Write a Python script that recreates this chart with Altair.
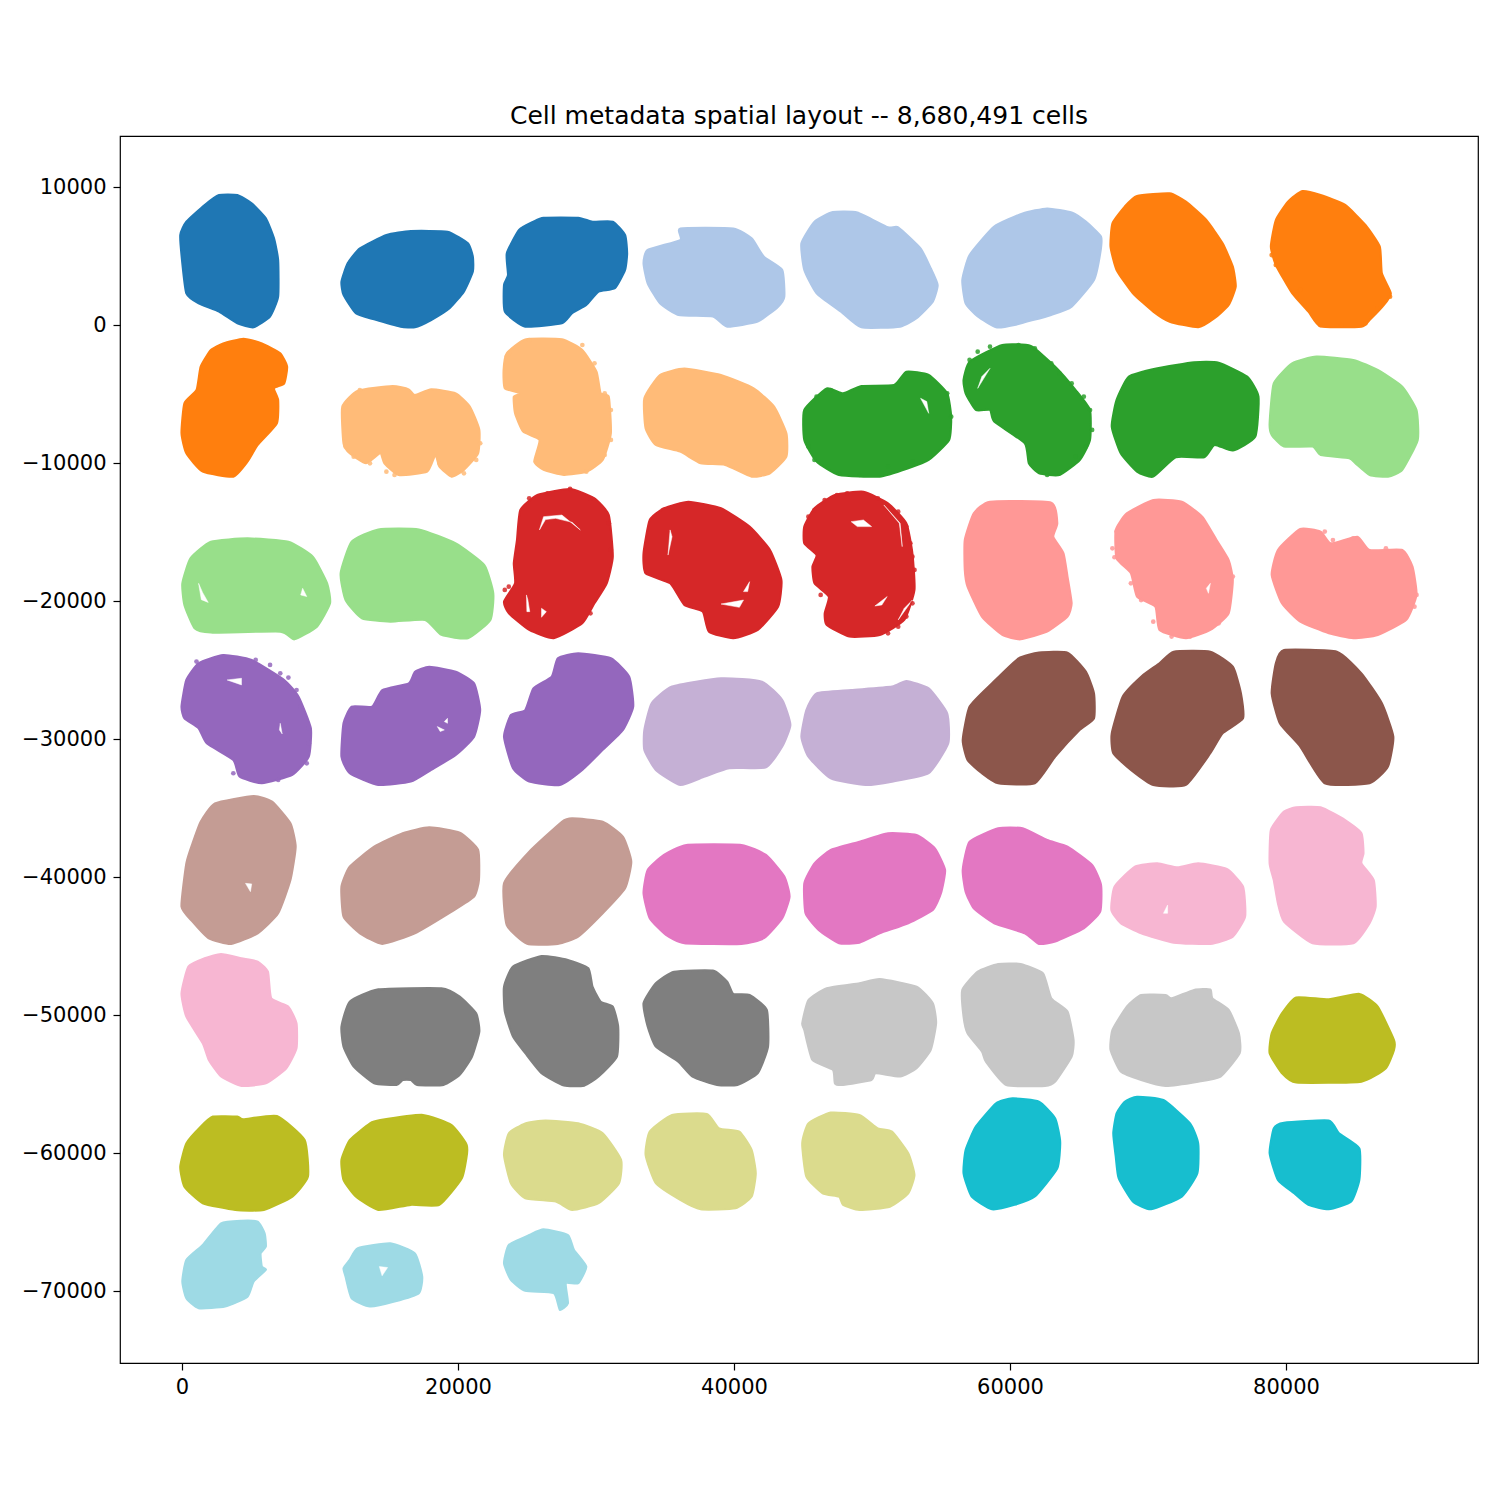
import altair as alt
import pandas as pd

COLORS = ["#1f77b4","#aec7e8","#ff7f0e","#ffbb78","#2ca02c","#98df8a","#d62728","#ff9896","#9467bd","#c5b0d5",
          "#8c564b","#c49c94","#e377c2","#f7b6d2","#7f7f7f","#c7c7c7","#bcbd22","#dbdb8d","#17becf","#9edae5"]
TITLE = "Cell metadata spatial layout -- 8,680,491 cells"
X_TICKS = [0, 20000, 40000, 60000, 80000]
Y_TICKS = [10000, 0, -10000, -20000, -30000, -40000, -50000, -60000, -70000]

b01=[(2680,9420),(4010,9420),(5050,8820),(6080,7730),(6670,6280),(6970,4710),(6970,2050),(6380,610),(5190,-170),(4010,120),(2680,970),(1200,1570),(310,2300),(20,4470),(-130,6520),(310,7490),(1640,8700)]
b02=[(16580,6810),(19240,6760),(20720,5920),(21080,4950),(21080,3870),(20430,2420),(19390,1210),(18060,360),(16880,-170),(15840,-120),(13920,410),(12590,850),(11700,2180),(11550,3140),(12000,4470),(12890,5560),(14810,6520)]
b03=[(26200,7780),(28710,7780),(29750,7490),(31220,7490),(32110,6520),(32260,5190),(32110,3990),(31370,2660),(30190,2420),(29300,1450),(28270,850),(27530,120),(24870,-120),(23390,970),(23330,2900),(23620,3620),(23530,5190),(24420,6890),(25460,7490)]
b04=[(36110,7000),(39950,7000),(41280,6280),(42170,4950),(43500,3990),(43650,2050),(43200,1330),(41720,240),(39510,-120),(38470,610),(35960,730),(34630,1570),(33740,3020),(33440,4470),(33740,5440),(36110,6160)]
b05=[(47160,8190),(48940,8160),(51160,7080),(51900,7080),(53520,5560),(54260,4110),(54760,2900),(54410,1690),(53230,490),(52040,-120),(49230,-170),(47750,970),(45980,2300),(45090,3990),(44880,5920),(45830,7490)]
b06=[(62690,8450),(64470,8160),(65500,7490),(66600,6400),(66540,5190),(66090,3260),(64470,1330),(62990,730),(60330,0),(58990,-170),(57660,610),(56780,1570),(56540,3260),(57070,5070),(58850,7130),(60920,8090)]
b07=[(69200,9350),(71570,9540),(72750,8940),(74230,7610),(75410,5920),(76150,4230),(76360,2780),(75850,1450),(74820,490),(73640,-170),(71570,240),(70380,970),(68900,2300),(67720,3990),(67280,5680),(67420,7370),(68310,8580)]
b08=[(81180,9710),(82510,9420),(84290,8700),(85760,7250),(86800,5680),(86950,3750),(87600,2300),(87100,1450),(86060,360),(85470,-120),(82510,-120),(81620,970),(80440,2300),(79260,4350),(78900,5680),(79260,7610),(80140,8940)]
b09=[(4450,-990),(5790,-1330),(7120,-2050),(7620,-3020),(7410,-4230),(6670,-4590),(6970,-5430),(6880,-7120),(5490,-8690),(4750,-9900),(3720,-10990),(1500,-10630),(310,-9300),(-40,-7850),(170,-5670),(1050,-4710),(1350,-3020),(2090,-1810),(2980,-1330)]
b10=[(15250,-4420),(16430,-4660),(16880,-5070),(18060,-4660),(19840,-4950),(20870,-5920),(21550,-7600),(21460,-9300),(20430,-10500),(19540,-10990),(18650,-10260),(18360,-9420),(17770,-10630),(15700,-10870),(14660,-10020),(14360,-9300),(13330,-10020),(12150,-9300),(11700,-8570),(11610,-5920),(12740,-4760)]
b11=[(24870,-1040),(27530,-1040),(29010,-1810),(30040,-3380),(30340,-4950),(30930,-5190),(31080,-7850),(30490,-9780),(29300,-10630),(27680,-10870),(26200,-10500),(25520,-9900),(25900,-8330),(24720,-7730),(24130,-6400),(24040,-5190),(24570,-4950),(23390,-4590),(23300,-3260),(23530,-2050)]
b12=[(36400,-3160),(39060,-3620),(41430,-4590),(42910,-5920),(43800,-7850),(43800,-9540),(42610,-10750),(41280,-10990),(39360,-10140),(37580,-10020),(36100,-9180),(34330,-8690),(33590,-7490),(33500,-5310),(34630,-3620)]
b13=[(52490,-3380),(54110,-3620),(55450,-4950),(55740,-6640),(55590,-8330),(54110,-9780),(52630,-10380),(50560,-10990),(47610,-10870),(45980,-9900),(45090,-8330),(45090,-6160),(46720,-4590),(47900,-4950),(49230,-4420),(51600,-4350)]
b14=[(59440,-1450),(61510,-1520),(63280,-3020),(64760,-4710),(65800,-6160),(65800,-8330),(65060,-9780),(63580,-10870),(62100,-10750),(61360,-10020),(61070,-8570),(58850,-7000),(58550,-6160),(57520,-6160),(56780,-4950),(56630,-3980),(57070,-2660)]
b15=[(73340,-2700),(75120,-2730),(77190,-3740),(78010,-5190),(77780,-8090),(76150,-9100),(74820,-8690),(74080,-9590),(72010,-9590),(70380,-10990),(69200,-10630),(68020,-9300),(67370,-7360),(67720,-5430),(68610,-3740),(70680,-3140)]
b16=[(82210,-2290),(84880,-2530),(86650,-3260),(88430,-4470),(89460,-6160),(89550,-8330),(88430,-10500),(87390,-10990),(86060,-10870),(85020,-10020),(84580,-9660),(82510,-9420),(81920,-8810),(79850,-8810),(78960,-7970),(78810,-7120),(79110,-4230),(80440,-2780)]
b17=[(4750,-15460),(7710,-15700),(9480,-16790),(10520,-18720),(10730,-20170),(9780,-21860),(8150,-22780),(7120,-22220),(2090,-22290),(910,-21980),(170,-20290),(20,-18720),(610,-16910),(2090,-15700)]
b18=[(14220,-14810),(17170,-14810),(19840,-15820),(21910,-17390),(22560,-19440),(22350,-21370),(20720,-22700),(18800,-22460),(17620,-21370),(15100,-21500),(13030,-21250),(11850,-19930),(11490,-17990),(12290,-15700)]
b19=[(28120,-11880),(29890,-12560),(30930,-13770),(31220,-16790),(30780,-18720),(29890,-20170),(29010,-21620),(26940,-22700),(25160,-22100),(23680,-20890),(23330,-20050),(24130,-18720),(24040,-17270),(24270,-15580),(24510,-13410),(25750,-12320)]
b20=[(36700,-12800),(39060,-13280),(41130,-14610),(42610,-16300),(43440,-18480),(43200,-20410),(41730,-22100),(39950,-22700),(38180,-22220),(37730,-20770),(36400,-20290),(35370,-18720),(33590,-17990),(33440,-16540),(33890,-14130),(34920,-13280)]
b21=[(49380,-12080),(51160,-12920),(52490,-14370),(52930,-16540),(53080,-19200),(52340,-21370),(50560,-22460),(48350,-22580),(46720,-21740),(46570,-20890),(46870,-19680),(45830,-18720),(45680,-17510),(45980,-16670),(45090,-15820),(45090,-14610),(45830,-13280),(47310,-12320)]
b22=[(58550,-12800),(62990,-12870),(63430,-14370),(63140,-15340),(63880,-16540),(64170,-18230),(64470,-20170),(64170,-21130),(62690,-22220),(60770,-22780),(59440,-22460),(57960,-21130),(56920,-18960),(56720,-17750),(56720,-15580),(57370,-13650)]
b23=[(70380,-12680),(72450,-12800),(73930,-13890),(74970,-15580),(75850,-17030),(76150,-18480),(75850,-20890),(74520,-22100),(72750,-22700),(70830,-22100),(70530,-20410),(69200,-19680),(68760,-17990),(67720,-16910),(67660,-14850),(68460,-13650)]
b24=[(81030,-14780),(82510,-14970),(83250,-15820),(85170,-15340),(86060,-16300),(88430,-16300),(89170,-17510),(89460,-19560),(88720,-21370),(86650,-22460),(84880,-22700),(83100,-22340),(81030,-21500),(79700,-20170),(78960,-18110),(79410,-16300)]
b25=[(2980,-23910),(5050,-24270),(7410,-25720),(8450,-26930),(9340,-29220),(9190,-31280),(8000,-32600),(5790,-33210),(4160,-32720),(3720,-31520),(1790,-30310),(1200,-29220),(170,-28500),(-40,-27650),(310,-25720),(1200,-24510)]
b26=[(17910,-24760),(19840,-25120),(21170,-25960),(21610,-27900),(21170,-29830),(19840,-31160),(18060,-32240),(16580,-33090),(14220,-33330),(12150,-32480),(11550,-31280),(11700,-28860),(12290,-27650),(13770,-27650),(14510,-26450),(16430,-25960),(16880,-25120)]
b27=[(28710,-23790),(31080,-24150),(32410,-25480),(32700,-27650),(31960,-29340),(30490,-30790),(29010,-32240),(27380,-33330),(25160,-33090),(23980,-32120),(23330,-29830),(23830,-28260),(24870,-27900),(25460,-26330),(26790,-25480),(27230,-24150)]
b28=[(39060,-25600),(42020,-25840),(43500,-27170),(44090,-28980),(43500,-30550),(42320,-32050),(39660,-32120),(37880,-32720),(36100,-33330),(34330,-32240),(33500,-30790),(33500,-29340),(34030,-27410),(35510,-26200)]
b29=[(52490,-25790),(54110,-26330),(55450,-28140),(55530,-30310),(54110,-32480),(51450,-33090),(49530,-33330),(47010,-32850),(45390,-31280),(44880,-29830),(45240,-27900),(45980,-26690),(48490,-26450),(51450,-26200)]
b30=[(62100,-23740),(64170,-23740),(65500,-25120),(66090,-26690),(66090,-28500),(65060,-29340),(63280,-31280),(61800,-33210),(59140,-33210),(57960,-32480),(56920,-31520),(56570,-30070),(57070,-27650),(58700,-25960),(60620,-24150)]
b31=[(71860,-23670),(74520,-23670),(76150,-24760),(76740,-26690),(76890,-28500),(75410,-29590),(74520,-31030),(72750,-33330),(70380,-33330),(68760,-32240),(67480,-31030),(67370,-29590),(68160,-26930),(69500,-25480),(70830,-24510)]
b32=[(79850,-23550),(83690,-23670),(85470,-25240),(86950,-27410),(87780,-29830),(87390,-32000),(86060,-33210),(82810,-33210),(81030,-30550),(79550,-28860),(78960,-26690),(79260,-24510)]
b33=[(5190,-34130),(6530,-34540),(7860,-36110),(8240,-37800),(7860,-40220),(6970,-42630),(5490,-44080),(3570,-44850),(1940,-44440),(760,-43230),(-40,-42150),(310,-39010),(760,-37560),(1350,-35990),(2380,-34660)]
b34=[(17910,-36400),(20130,-36790),(21460,-38040),(21520,-40220),(21170,-41420),(19540,-42510),(16880,-44080),(14510,-44850),(12890,-44080),(11700,-42870),(11550,-40700),(12150,-39250),(13920,-37800),(15990,-36830)]
b35=[(28270,-35750),(30490,-35990),(31960,-37080),(32560,-38890),(32110,-40820),(30490,-42630),(28710,-44320),(27230,-44850),(25010,-44850),(23530,-43480),(23330,-40460),(25160,-38160),(27530,-35990)]
b36=[(36550,-37680),(40540,-37680),(42320,-38400),(43650,-39970),(44030,-41420),(43500,-42990),(42170,-44440),(40540,-44850),(36400,-44800),(35070,-44200),(33890,-42990),(33440,-41180),(33740,-39490),(34920,-38400)]
b37=[(51160,-36830),(53230,-36950),(54560,-37920),(55300,-39490),(55000,-41180),(54410,-42390),(52630,-43350),(50560,-44080),(49090,-44760),(47610,-44800),(46130,-43840),(45180,-42630),(45090,-40460),(45830,-39010),(47010,-38040),(49090,-37440)]
b38=[(59140,-36470),(60920,-36470),(62690,-37320),(64170,-37800),(65950,-39130),(66600,-40580),(66540,-42510),(65350,-43720),(63280,-44680),(62100,-44850),(61070,-44080),(58850,-43350),(57370,-42270),(56780,-41060),(56570,-39490),(57070,-37440)]
b39=[(70680,-39010),(72160,-39300),(73640,-39010),(75710,-39420),(76890,-40700),(77040,-42870),(76150,-44320),(74520,-44850),(71860,-44760),(69500,-44080),(68020,-43350),(67340,-42390),(67570,-40700),(69050,-39250)]
b40=[(80740,-34950),(82510,-34950),(84290,-35870),(85470,-36830),(85620,-38280),(85470,-39010),(86360,-40220),(86500,-42150),(86060,-43350),(84880,-44800),(81920,-44800),(79850,-43230),(79410,-41910),(79110,-40220),(78810,-39010),(78900,-36590),(79850,-35260)]
b41=[(2830,-45580),(4310,-45890),(5490,-46130),(6230,-46860),(6470,-48790),(7710,-49390),(8300,-50600),(8300,-52410),(7560,-53860),(6080,-54950),(4310,-55140),(2830,-54460),(1940,-53260),(1500,-52050),(310,-50120),(-40,-48430),(460,-46490),(1640,-45890)]
b42=[(14220,-48140),(18800,-48060),(20130,-48670),(21320,-49880),(21550,-51200),(21020,-53010),(20130,-54340),(18950,-55070),(17030,-55070),(16580,-54710),(15990,-54710),(15550,-55070),(13920,-54950),(12440,-53740),(11700,-52290),(11550,-50840),(12150,-49030)]
b43=[(26050,-45720),(27970,-46010),(29450,-46610),(29750,-47940),(30340,-49030),(31220,-49390),(31610,-50840),(31520,-53010),(30190,-54460),(29150,-55120),(27680,-55120),(26050,-54220),(24870,-52770),(23980,-51570),(23390,-49750),(23330,-47940),(23980,-46490)]
b44=[(35660,-46860),(38470,-46780),(39510,-47580),(39950,-48470),(41130,-48550),(42380,-49630),(42470,-52290),(41730,-54220),(40250,-55070),(38770,-55070),(36990,-54460),(35960,-53380),(34330,-52290),(33740,-50840),(33440,-49150),(34330,-47700)]
b45=[(50560,-47390),(53230,-47940),(54410,-49150),(54650,-50600),(54260,-52530),(53230,-53860),(52040,-54460),(50270,-54220),(49970,-54710),(47900,-55070),(47310,-54950),(47160,-53980),(45680,-53260),(45090,-51080),(44940,-50600),(45390,-48910),(46720,-48060),(49090,-47700)]
b46=[(59140,-46300),(60770,-46300),(62400,-46980),(62990,-48790),(64170,-49750),(64610,-51810),(64470,-53010),(63280,-54830),(62540,-55140),(59730,-55070),(58250,-53380),(57960,-52650),(56920,-51320),(56630,-50120),(56540,-48180),(57660,-46860)]
b47=[(69500,-48550),(71270,-48550),(71710,-48790),(73340,-48180),(74520,-48140),(74670,-48790),(75850,-49630),(76590,-51320),(76650,-52770),(75260,-54460),(73640,-54830),(71270,-55140),(69500,-54710),(68020,-54100),(67280,-52530),(67420,-51080),(68460,-49390)]
b48=[(80740,-48720),(83100,-48860),(85320,-48470),(86650,-49390),(87830,-51810),(87830,-52530),(87240,-53860),(85470,-54830),(80740,-54900),(79700,-54220),(78810,-52770),(78960,-51320),(79700,-49880)]
b49=[(2240,-57360),(4010,-57360),(4450,-57560),(6880,-57320),(8890,-59060),(9130,-61710),(8000,-63160),(5930,-64130),(3860,-64130),(1500,-63640),(170,-62440),(-130,-60990),(310,-59300),(1350,-58090)]
b50=[(14360,-57610),(17470,-57240),(19540,-57970),(20580,-59300),(20660,-60020),(20280,-61830),(18650,-63760),(16580,-63760),(14220,-64130),(12590,-63160),(11700,-61950),(11550,-60500),(12150,-59060),(13620,-57850)]
b51=[(26340,-57650),(28710,-57850),(30490,-58570),(31820,-60500),(31670,-62190),(30190,-63640),(28270,-64130),(27080,-63520),(24870,-63280),(23830,-62190),(23330,-60140),(23680,-58570),(24870,-57850)]
b52=[(35510,-57240),(38030,-57170),(38920,-58210),(40390,-58450),(41280,-59780),(41580,-61470),(41280,-63160),(40100,-64010),(37580,-64080),(36100,-63400),(34330,-62190),(33590,-60140),(33890,-58450)]
b53=[(4310,-64900),(5490,-64970),(5990,-65820),(6080,-66780),(5700,-67270),(5790,-68230),(6080,-68470),(5190,-69320),(4750,-70410),(3120,-71130),(1200,-71250),(310,-70530),(20,-69320),(310,-67750),(1500,-66660),(2830,-65090)]
b54=[(12740,-66900),(15100,-66540),(16880,-67270),(17410,-68960),(17170,-70160),(15400,-70770),(13620,-71130),(12290,-70530),(11850,-68960),(11700,-68350),(12150,-67750)]
b55=[(26200,-65530),(27970,-65940),(28410,-67020),(29300,-68230),(28710,-69440),(27820,-69440),(27970,-70890),(27380,-71370),(26940,-70160),(24870,-69990),(23830,-69200),(23330,-67990),(23680,-66660),(25160,-65940)]
b56=[(47010,-57070),(49090,-57240),(50420,-58210),(51450,-58450),(52630,-60020),(53080,-61590),(52630,-62920),(51300,-63890),(49090,-64130),(47900,-63760),(47610,-63160),(46420,-62920),(45240,-61710),(44940,-59300),(45390,-57850)]
b57=[(60180,-56040),(62100,-56280),(63280,-57490),(63640,-59180),(63430,-61110),(61800,-63160),(60330,-63760),(58700,-64080),(57220,-63160),(56630,-61470),(56780,-59780),(57520,-58090),(58990,-56400)]
b58=[(69200,-55920),(71120,-56160),(73050,-57850),(73640,-59300),(73580,-61470),(72450,-63160),(70230,-64080),(68900,-63520),(67870,-61830),(67660,-60260),(67480,-58570),(67720,-57120),(68310,-56280)]
b59=[(79850,-57800),(83100,-57650),(83840,-58570),(85320,-59660),(85320,-61950),(84730,-63520),(83100,-64080),(81620,-63760),(80590,-62920),(79410,-61950),(78810,-60020),(79110,-58210)]

GROUPS = [
 [b01,b02,b03],[b04,b05,b06],[b07,b08,b09],[b10,b11,b12],[b13,b14,b15],
 [b16,b17,b18],[b19,b20,b21],[b22,b23,b24],[b25,b26,b27],[b28,b29],
 [b30,b31,b32],[b33,b34,b35],[b36,b37,b38],[b39,b40,b41],[b42,b43,b44],
 [b45,b46,b47],[b48,b49,b50],[b51,b52,b56],[b57,b58,b59],[b53,b54,b55],
]

h01=[(25900,-14850),(26200,-13890),(27530,-13770),(28860,-14850),(28270,-14300),(27080,-14010),(26340,-14100)]
h02=[(24960,-19560),(24990,-20770),(25200,-20770),(25060,-19900)]
h03=[(26050,-20530),(26050,-21180),(26400,-20770)]
h04=[(40690,-19320),(41130,-18600),(40990,-19320)]
h05=[(39060,-20220),(40690,-19930),(40390,-20460)]
h06=[(35370,-14850),(35220,-16670),(35510,-15340)]
h07=[(1200,-18720),(1400,-19900),(1900,-20100),(1500,-19400)]
h08=[(8740,-19080),(8600,-19560),(9040,-19680)]
h09=[(3270,-25720),(4310,-25600),(4310,-26080)]
h10=[(7120,-28860),(7060,-29340),(7260,-29630)]
h11=[(19010,-28740),(19240,-28500),(19240,-28860)]
h12=[(18500,-29100),(19010,-29340),(18710,-29460)]
h13=[(4600,-40460),(5050,-40500),(4960,-41060)]
h14=[(48490,-14250),(49380,-14130),(49970,-14610),(48940,-14610)]
h15=[(50210,-20360),(51100,-19680),(50710,-20290)]
h16=[(74230,-19080),(74520,-18720),(74380,-19440)]
h17=[(71120,-42630),(71420,-42030),(71420,-42630)]
h18=[(53520,-5310),(54110,-6400),(53970,-5550)]
h19=[(57660,-4590),(58550,-3140),(57960,-3740)]
h20=[(14300,-68230),(14500,-68900),(14900,-68300)]
h21=[(50860,-13040),(52040,-14370),(52190,-16060),(51980,-14370)]
h22=[(52930,-19930),(51900,-21370),(52340,-20530)]
HOLES = [h01,h02,h03,h04,h05,h06,h07,h08,h09,h10,h11,h12,h13,h14,h15,h16,h17,h18,h19,h20,h21,h22]

dots_red = [(47460,-12320),(48200,-12200),(50420,-12560),(51900,-13530),(52490,-14610),(52780,-15820),(52930,-16790),(53080,-17750),(52930,-18960),(52930,-20170),(52490,-21130),(51900,-21860),(51160,-22340),(46280,-19560),(45390,-13890),(45830,-13410),(46570,-12680),
            (25160,-12560),(26490,-12200),(28120,-11880),(29600,-12560),(30930,-14370),(31080,-16300),(23390,-19200),(23680,-18960),(30490,-18960),(29600,-20890)]
dots_green = [(57070,-2530),(57660,-1930),(58550,-1570),(60620,-1450),(61800,-1690),(62990,-2780),(63580,-3500),(64470,-4230),(65350,-5190),(65800,-6160),(65950,-7600),(65500,-8810),(64760,-9540),(63580,-10750),(62690,-10870),
              (45980,-5190),(47010,-4710),(45390,-8810),(45830,-9780),(47610,-10750),(49090,-10870),(51160,-10260),(52930,-9900),(55740,-6640),(55450,-4950)]
dots_purple = [(1050,-24390),(5340,-24270),(6380,-24630),(7120,-25240),(7710,-25550),(8300,-26450),(8600,-27650),(9190,-29220),(9190,-30310),(9040,-31760),(6970,-32970),(3720,-32480)]
dots_pink = [(68310,-14010),(67720,-14970),(67420,-16180),(67570,-16830),(68760,-18720),(69500,-19930),(70380,-21500),(71710,-22580),(73050,-22580),(75120,-21620),(76150,-18230),
             (82810,-14970),(83400,-15580),(84880,-15460),(87240,-16180),(89460,-19560),(89310,-20410)]
dots_lorange = [(11850,-5920),(11850,-8810),(12440,-9540),(13620,-10020),(14810,-10630),(15400,-10870),(18650,-10020),(19540,-10870),(20430,-10750),(21320,-9780),(21610,-8570),(12890,-4710),
                (23680,-2050),(23530,-2290),(25160,-1090),(29010,-1450),(29890,-2780),(30630,-4950),(31080,-6160),(31080,-8330),(30630,-9420),(29300,-10630)]
dots_orange = [(79110,5920),(78960,5070),(79260,4350),(81030,2540),(80740,2180),(82510,0),(83990,0),(85760,120),(86650,1210),(87540,2050)]
DOTS = {6: dots_red, 4: dots_green, 8: dots_purple, 7: dots_pink, 3: dots_lorange, 2: dots_orange}

rows = []
blob_id = 0
for g, blobs in enumerate(GROUPS):
    for blob in blobs:
        blob_id += 1
        for i, (x, y) in enumerate(blob):
            rows.append({"x": x, "y": y, "group": g, "blob": blob_id, "i": i})
df = pd.DataFrame(rows)

hole_rows = []
for k, hole in enumerate(HOLES):
    for i, (x, y) in enumerate(hole):
        hole_rows.append({"x": x, "y": y, "hole": k, "i": i})
hf = pd.DataFrame(hole_rows)

dot_rows = []
for g, pts in DOTS.items():
    for x, y in pts:
        dot_rows.append({"x": x, "y": y, "group": g})
dotf = pd.DataFrame(dot_rows)

xs = alt.Scale(domain=[-4493, 93913], nice=False, zero=False)
ys = alt.Scale(domain=[-75217, 13696], nice=False, zero=False)
label_expr = "replace(format(datum.value,'d'),'-','\u2212')"
x_enc = alt.X("x:Q", scale=xs, title=None,
              axis=alt.Axis(values=X_TICKS, labelExpr=label_expr, grid=False, domain=False, tickSize=7,
                            tickWidth=1.2, tickColor="black", labelColor="black", labelFontSize=21,
                            labelFont="DejaVu Sans", labelPadding=6, labelFlush=False))
y_enc = alt.Y("y:Q", scale=ys, title=None,
              axis=alt.Axis(values=Y_TICKS, labelExpr=label_expr, grid=False, domain=False, tickSize=7,
                            tickWidth=1.2, tickColor="black", labelColor="black", labelFontSize=21,
                            labelFont="DejaVu Sans", labelPadding=7))
cscale = alt.Scale(domain=list(range(len(COLORS))), range=COLORS)

blobs_layer = alt.Chart(df).mark_line(interpolate="cardinal-closed", tension=0.5, strokeWidth=2,
                                      strokeJoin="round", filled=False).encode(
    x=x_enc, y=y_enc, order="i:Q", detail="blob:N",
    color=alt.Color("group:O", scale=cscale, legend=None),
    fill=alt.Fill("group:O", scale=cscale, legend=None),
)
holes_layer = alt.Chart(hf).mark_line(interpolate="linear-closed", stroke="white", strokeWidth=0.5,
                                      fill="white").encode(
    x=alt.X("x:Q", scale=xs), y=alt.Y("y:Q", scale=ys), order="i:Q", detail="hole:N",
)
dots_layer = alt.Chart(dotf).mark_circle(size=22, opacity=0.85).encode(
    x=alt.X("x:Q", scale=xs), y=alt.Y("y:Q", scale=ys),
    color=alt.Color("group:O", scale=cscale, legend=None),
)

chart = (blobs_layer + holes_layer + dots_layer).properties(
    width=1358, height=1227,
    title=alt.Title(TITLE, fontSize=25, font="DejaVu Sans", fontWeight="normal", color="black",
                    anchor="middle", offset=7),
    padding={"left": 112, "top": 128, "right": 14, "bottom": 129},
    autosize="none",
).configure_view(stroke="black", strokeWidth=1.2)

chart.save("out.html", embed_options={"renderer": "svg", "actions": False})
